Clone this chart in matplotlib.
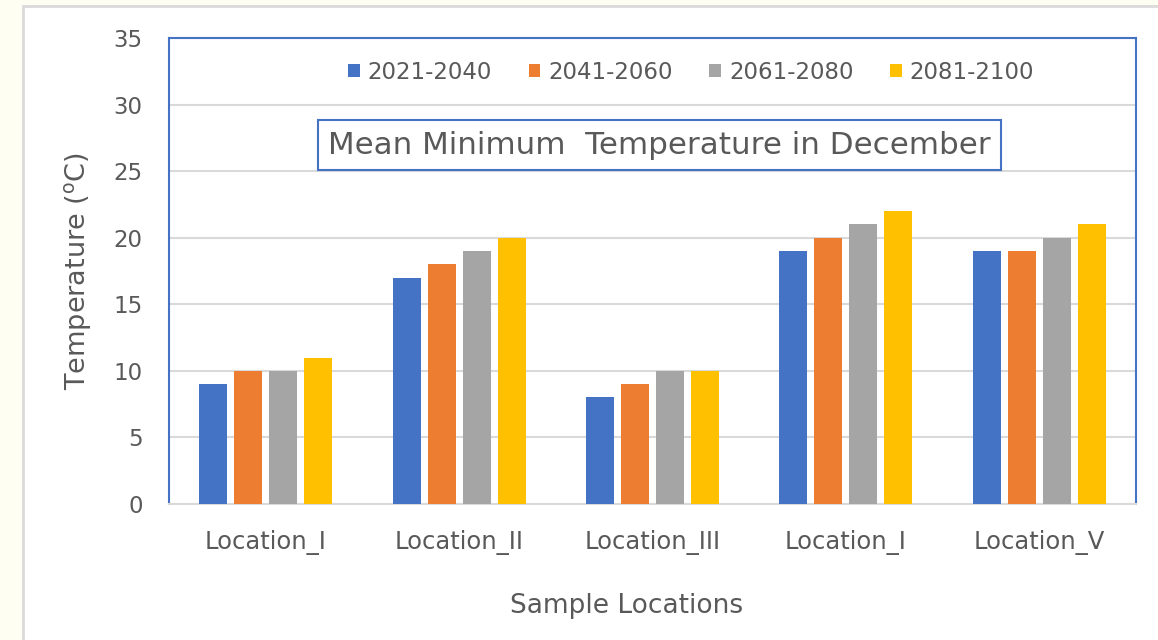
import matplotlib.pyplot as plt
from matplotlib.patches import Rectangle
import numpy as np

# data
locations = ["Location_I", "Location_II", "Location_III", "Location_I", "Location_V"]
periods = ["2021-2040", "2041-2060", "2061-2080", "2081-2100"]
p2021_2040 = [9, 17, 8, 19, 19]
p2041_2060 = [10, 18, 9, 20, 19]
p2061_2080 = [10, 19, 10, 21, 20]
p2081_2100 = [11, 20, 10, 22, 21]
colors = ["#4472C4", "#ED7D31", "#A5A5A5", "#FFC000"]
yticks = [0, 5, 10, 15, 20, 25, 30, 35]

txt = "#595959"
grid = "#D9D9D9"

fig = plt.figure(figsize=(11.58, 6.4), dpi=100)
fig.patch.set_facecolor("#FFFEF3")
# white chart panel with light border
fig.patches.append(Rectangle((23 / 1158, -0.01), 1.0, (640 - 6) / 640 + 0.01,
                             transform=fig.transFigure, facecolor="white",
                             edgecolor="#DADADA", linewidth=2, zorder=-10))

ax = fig.add_axes([169 / 1158, (640 - 504) / 640, (1136 - 169) / 1158, (504 - 38) / 640])
ax.set_facecolor("white")

x = np.arange(len(locations))
series = [p2021_2040, p2041_2060, p2061_2080, p2081_2100]
step = 0.181
width = 0.145
for i, vals in enumerate(series):
    ax.bar(x + (i - 1.5) * step, vals, width, color=colors[i], label=periods[i], zorder=3)

ax.set_xlim(-0.5, len(locations) - 0.5)
ax.set_ylim(0, 35)
ax.set_yticks(yticks)
ax.yaxis.grid(True, color=grid, linewidth=1.5, zorder=0)
ax.set_axisbelow(True)

ax.set_xticks(x)
ax.set_xticklabels(locations)
ax.tick_params(axis="both", length=0, colors=txt)
ax.tick_params(axis="y", pad=19, labelsize=16.5)
ax.tick_params(axis="x", pad=19, labelsize=17.5)

for s in ["left", "top", "right"]:
    ax.spines[s].set_color("#4472C4")
    ax.spines[s].set_linewidth(1.5)
ax.spines["bottom"].set_color(grid)
ax.spines["bottom"].set_linewidth(1.5)

ax.set_ylabel("Temperature ($^{\\rm o}$C)", fontsize=19.5, color=txt, labelpad=14)
# x label sits a bit left of the axes centre in the original
ax.text((627 - 169) / 967, (504 - 606) / 466, "Sample Locations", transform=ax.transAxes,
        ha="center", va="center", fontsize=19, color=txt)

ax.legend(loc="center", bbox_to_anchor=(0.54, 0.927), ncol=4, frameon=False,
          fontsize=16.5, handlelength=0.5, handleheight=0.5, handletextpad=0.35,
          columnspacing=1.6, labelcolor=txt)

ax.text(0.507, 0.770, "Mean Minimum  Temperature in December", transform=ax.transAxes,
        ha="center", va="center", fontsize=22.3, color=txt, zorder=5,
        bbox=dict(boxstyle="square,pad=0.33", facecolor="white", edgecolor="#4472C4", linewidth=1.5))

fig.savefig("out.png", dpi=100, facecolor=fig.get_facecolor())
